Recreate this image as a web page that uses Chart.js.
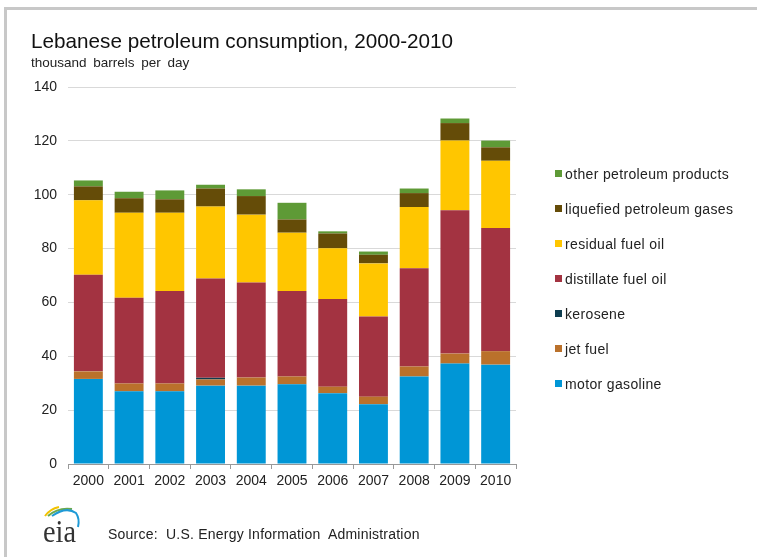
<!DOCTYPE html>
<html>
<head>
<meta charset="utf-8">
<script src="https://cdn.jsdelivr.net/npm/chart.js@4"></script>
<style>
  body { margin: 0; background: #fff; }
  #page { position: relative; width: 757px; height: 557px; overflow: hidden; background: #fff;
          font-family: "Liberation Sans", Arial, sans-serif; }
  #frameTop { position: absolute; left: 4px; top: 7px; width: 753px; height: 3px; background: #c8c8c8; }
  #frameLeft { position: absolute; left: 4px; top: 7px; width: 3px; height: 550px; background: #c8c8c8; }
  #chartBox { position: absolute; left: 0; top: 0; width: 757px; height: 557px; }
  .txt { position: absolute; white-space: nowrap; color: #111; }
  #title { left: 31px; top: 31px; font-size: 20.7px; line-height: 20px; }
  #subtitle { left: 31px; top: 56px; font-size: 13.5px; line-height: 13px; word-spacing: 3px; color: #222; }
  #source { left: 108px; top: 527px; font-size: 14px; line-height: 14px; letter-spacing: 0.22px; color: #222; }
  #legend { position: absolute; left: 555px; top: 0; }
  .item { position: absolute; left: 0; height: 14px; line-height: 14px; font-size: 14px; letter-spacing: 0.35px; color: #222; white-space: nowrap; }
  .item i { position: absolute; left: 0; top: 3px; width: 7px; height: 7px; }
  .item span { position: absolute; left: 10px; top: 0; }
  #logo { position: absolute; left: 36px; top: 503px; }
</style>
</head>
<body>
<div id="page">
  <div id="frameTop"></div>
  <div id="frameLeft"></div>
  <div id="chartBox"><canvas id="c"></canvas></div>
  <div class="txt" id="title">Lebanese petroleum consumption, 2000-2010</div>
  <div class="txt" id="subtitle">thousand barrels per day</div>
  <div id="legend"></div>
  <svg id="logo" width="52" height="44" viewBox="0 0 52 44">
    <path d="M9 13 Q14 6 23 4" stroke="#f2c200" stroke-width="2" fill="none"/>
    <path d="M12 13 Q22 4 36 6" stroke="#6aa84f" stroke-width="2" fill="none"/>
    <path d="M16 13 Q30 3 40 10 Q44 16 42 24" stroke="#1e9ad6" stroke-width="2" fill="none"/>
    <text x="7" y="38.7" font-family="Liberation Serif, Times New Roman, serif" font-size="31" textLength="33" lengthAdjust="spacingAndGlyphs" fill="#333">eia</text>
  </svg>
  <div class="txt" id="source">Source:&nbsp; U.S. Energy Information&nbsp; Administration</div>
</div>
<script>
const years = ['2000', '2001', '2002', '2003', '2004', '2005', '2006', '2007', '2008', '2009', '2010'];

// thousand barrels per day
const motorGasoline     = [31.6, 27.0, 27.0, 29.1, 29.1, 29.6, 26.3, 22.2, 32.5, 37.3, 36.9];
const jetFuel           = [2.8, 2.9, 2.9, 2.3, 3.0, 2.9, 2.4, 2.8, 3.7, 3.7, 5.0];
const kerosene          = [0, 0, 0, 0.6, 0, 0, 0, 0, 0, 0, 0];
const distillateFuelOil = [35.9, 31.8, 34.3, 36.9, 35.3, 31.7, 32.6, 29.8, 36.5, 53.2, 45.7];
const residualFuelOil   = [27.6, 31.6, 29.1, 26.7, 25.2, 21.7, 18.8, 19.7, 22.7, 25.9, 25.0];
const lpg               = [5.2, 5.4, 5.0, 6.7, 6.9, 4.9, 5.5, 3.2, 5.2, 6.5, 5.0];
const otherProducts     = [2.2, 2.4, 3.3, 1.4, 2.5, 6.2, 0.8, 1.2, 1.7, 1.7, 2.5];

const yMin = 0, yMax = 140, yStep = 20;

const series = [
  {label: 'motor gasoline', data: motorGasoline, color: '#0096D6'},
  {label: 'jet fuel', data: jetFuel, color: '#BA712B'},
  {label: 'kerosene', data: kerosene, color: '#0D3D4F'},
  {label: 'distillate fuel oil', data: distillateFuelOil, color: '#A33341'},
  {label: 'residual fuel oil', data: residualFuelOil, color: '#FFC600'},
  {label: 'liquefied petroleum gases', data: lpg, color: '#654C08'},
  {label: 'other petroleum products', data: otherProducts, color: '#5E9A36'}
];

const font = {family: '"Liberation Sans", Arial, sans-serif', size: 14};

const chart = new Chart(document.getElementById('c'), {
  type: 'bar',
  data: {
    labels: years,
    datasets: series.map(s => ({
      label: s.label, data: s.data, backgroundColor: s.color,
      borderWidth: 0, barPercentage: 0.71, categoryPercentage: 1
    }))
  },
  options: {
    responsive: true,
    maintainAspectRatio: false,
    animation: false,
    layout: {padding: {top: 87, right: 241, bottom: 63, left: 0}},
    plugins: {legend: {display: false}, tooltip: {enabled: false}},
    scales: {
      x: {
        stacked: true,
        afterFit: scale => { scale.height = 30; },
        grid: {display: true, drawOnChartArea: false, drawTicks: true, tickLength: 5, color: '#999', offset: true},
        border: {display: true, color: '#999'},
        ticks: {color: '#222', font: font, padding: 4, maxRotation: 0}
      },
      y: {
        stacked: true,
        min: yMin, max: yMax,
        afterFit: scale => { scale.width = 68; },
        grid: {color: '#d9d9d9', drawTicks: false},
        border: {display: false},
        ticks: {stepSize: yStep, color: '#222', font: font, padding: 11}
      }
    }
  }
});

// legend built from the datasets, top item = last series
const legend = document.getElementById('legend');
chart.data.datasets.slice().reverse().forEach((ds, i) => {
  const el = document.createElement('div');
  el.className = 'item';
  el.style.top = (174 + i * 35 - 7) + 'px';
  el.innerHTML = '<i style="background:' + ds.backgroundColor + '"></i><span>' + ds.label + '</span>';
  legend.appendChild(el);
});
</script>
</body>
</html>
